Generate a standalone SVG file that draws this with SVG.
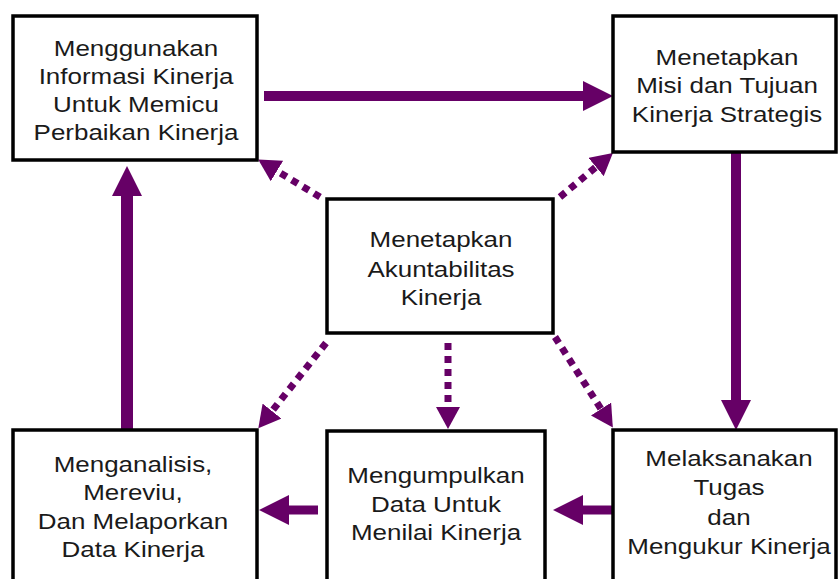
<svg xmlns="http://www.w3.org/2000/svg" width="839" height="579" viewBox="0 0 839 579">
<style>
.box{fill:#fff;stroke:#000;stroke-width:3.5}
.lbl{font-family:"Liberation Sans",Arial,sans-serif;font-size:22px;fill:#1a1a1a;text-anchor:middle}
.solid{stroke:#660066;fill:none}
.dot{stroke:#660066;stroke-width:7;stroke-dasharray:7 6;fill:none}
</style>
<defs>
<marker id="hs" markerUnits="userSpaceOnUse" markerWidth="30" markerHeight="30" refX="0" refY="15" orient="auto" viewBox="0 0 30 30"><path d="M0,0 L30,15 L0,30 z" fill="#660066"/></marker>
<marker id="hd" markerUnits="userSpaceOnUse" markerWidth="22" markerHeight="24" refX="0" refY="12" orient="auto" viewBox="0 0 22 24"><path d="M0,0 L22,12 L0,24 z" fill="#660066"/></marker>
</defs>
<rect width="839" height="579" fill="#fff"/>
<g id="connectors">
<line class="solid" x1="264" y1="96" x2="583" y2="96" stroke-width="10" marker-end="url(#hs)"/>
<line class="solid" x1="736" y1="152" x2="736" y2="400" stroke-width="10" marker-end="url(#hs)"/>
<line class="solid" x1="127" y1="430" x2="127" y2="196" stroke-width="12" marker-end="url(#hs)"/>
<line class="solid" x1="613" y1="510" x2="583" y2="510" stroke-width="9" marker-end="url(#hs)"/>
<line class="solid" x1="318" y1="510" x2="289" y2="510" stroke-width="9" marker-end="url(#hs)"/>
<line class="dot" x1="320" y1="197" x2="277" y2="171" marker-end="url(#hd)"/>
<line class="dot" x1="560" y1="197" x2="596" y2="167" marker-end="url(#hd)"/>
<line class="dot" x1="326" y1="343" x2="272" y2="411" marker-end="url(#hd)"/>
<line class="dot" x1="448" y1="343" x2="448" y2="407" marker-end="url(#hd)"/>
<line class="dot" x1="555" y1="337" x2="601" y2="409" marker-end="url(#hd)"/>
</g>
<g id="n1">
<rect class="box" x="13" y="16" width="244" height="144"/>
<text class="lbl" transform="translate(136,0) scale(1.18,1)"><tspan x="0" y="56">Menggunakan</tspan><tspan x="0" y="84">Informasi Kinerja</tspan><tspan x="0" y="112">Untuk Memicu</tspan><tspan x="0" y="140">Perbaikan Kinerja</tspan></text>
</g>
<g id="n2">
<rect class="box" x="613" y="16" width="223" height="136"/>
<text class="lbl" transform="translate(727,0) scale(1.18,1)"><tspan x="0" y="65">Menetapkan</tspan><tspan x="0" y="93">Misi dan Tujuan</tspan><tspan x="0" y="122">Kinerja Strategis</tspan></text>
</g>
<g id="n3">
<rect class="box" x="327" y="199" width="226" height="134"/>
<text class="lbl" transform="translate(441,0) scale(1.18,1)"><tspan x="0" y="247">Menetapkan</tspan><tspan x="0" y="277">Akuntabilitas</tspan><tspan x="0" y="305">Kinerja</tspan></text>
</g>
<g id="n4">
<rect class="box" x="13" y="430" width="244" height="160"/>
<text class="lbl" transform="translate(133,0) scale(1.18,1)"><tspan x="0" y="472">Menganalisis,</tspan><tspan x="0" y="500">Mereviu,</tspan><tspan x="0" y="529">Dan Melaporkan</tspan><tspan x="0" y="557">Data Kinerja</tspan></text>
</g>
<g id="n5">
<rect class="box" x="327" y="431" width="218" height="160"/>
<text class="lbl" transform="translate(436,0) scale(1.18,1)"><tspan x="0" y="483">Mengumpulkan</tspan><tspan x="0" y="512">Data Untuk</tspan><tspan x="0" y="540">Menilai Kinerja</tspan></text>
</g>
<g id="n6">
<rect class="box" x="613" y="430" width="223" height="160"/>
<text class="lbl" transform="translate(729,0) scale(1.18,1)"><tspan x="0" y="466">Melaksanakan</tspan><tspan x="0" y="495">Tugas</tspan><tspan x="0" y="525">dan</tspan><tspan x="0" y="554">Mengukur Kinerja</tspan></text>
</g>
</svg>
